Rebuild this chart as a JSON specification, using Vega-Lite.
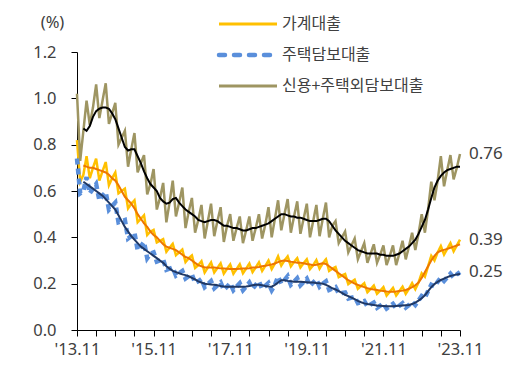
{
"$schema":"https://vega.github.io/schema/vega-lite/v6.json",
"width":383,"height":278,
"autosize":{"type":"none"},
"padding":{"left":77,"top":52,"right":71,"bottom":36},
"background":"white",
"config":{"view":{"stroke":null},"font":"Noto Sans",
 "axis":{"domainColor":"#000000","tickColor":"#000000","domainWidth":1,"tickWidth":1,"labelColor":"#404040","labelFontSize":16.5,"labelFont":"Noto Sans","grid":false,"tickSize":6}},
"data":{"values":[
{"i":0,"a":0.82,"b":0.74,"c":1.02},
{"i":1,"a":0.64,"b":0.59,"c":0.73},
{"i":2,"a":0.67,"b":0.60,"c":0.86,"ta":0.71,"tb":0.64,"tc":0.87},
{"i":3,"a":0.75,"b":0.66,"c":0.99,"ta":0.705,"tb":0.63,"tc":0.86},
{"i":4,"a":0.655,"b":0.59,"c":0.885,"ta":0.70,"tb":0.62,"tc":0.88},
{"i":5,"a":0.70,"b":0.61,"c":0.96,"ta":0.70,"tb":0.61,"tc":0.92},
{"i":6,"a":0.74,"b":0.63,"c":1.06,"ta":0.695,"tb":0.60,"tc":0.945},
{"i":7,"a":0.645,"b":0.56,"c":0.915,"ta":0.69,"tb":0.59,"tc":0.955},
{"i":8,"a":0.685,"b":0.58,"c":0.99,"ta":0.685,"tb":0.58,"tc":0.96},
{"i":9,"a":0.725,"b":0.595,"c":1.065,"ta":0.68,"tb":0.565,"tc":0.96},
{"i":10,"a":0.625,"b":0.52,"c":0.89,"ta":0.67,"tb":0.55,"tc":0.955},
{"i":11,"a":0.655,"b":0.535,"c":0.935,"ta":0.655,"tb":0.535,"tc":0.935},
{"i":12,"a":0.68,"b":0.55,"c":0.98,"ta":0.645,"tb":0.52,"tc":0.91},
{"i":13,"a":0.59,"b":0.465,"c":0.80,"ta":0.625,"tb":0.495,"tc":0.87},
{"i":14,"a":0.60,"b":0.47,"c":0.83,"ta":0.60,"tb":0.47,"tc":0.83},
{"i":15,"a":0.61,"b":0.475,"c":0.86,"ta":0.575,"tb":0.445,"tc":0.79},
{"i":16,"a":0.525,"b":0.395,"c":0.705,"ta":0.56,"tb":0.425,"tc":0.775},
{"i":17,"a":0.545,"b":0.405,"c":0.78,"ta":0.545,"tb":0.405,"tc":0.78},
{"i":18,"a":0.56,"b":0.42,"c":0.85,"ta":0.525,"tb":0.39,"tc":0.78},
{"i":19,"a":0.465,"b":0.345,"c":0.68,"ta":0.50,"tb":0.375,"tc":0.75},
{"i":20,"a":0.48,"b":0.36,"c":0.72,"ta":0.48,"tb":0.36,"tc":0.72},
{"i":21,"a":0.495,"b":0.38,"c":0.755,"ta":0.46,"tb":0.35,"tc":0.685},
{"i":22,"a":0.41,"b":0.31,"c":0.585,"ta":0.445,"tb":0.34,"tc":0.655},
{"i":23,"a":0.425,"b":0.33,"c":0.63,"ta":0.425,"tb":0.33,"tc":0.63},
{"i":24,"a":0.432,"b":0.335,"c":0.695,"ta":0.41,"tb":0.32,"tc":0.615},
{"i":25,"a":0.378,"b":0.295,"c":0.52,"ta":0.40,"tb":0.31,"tc":0.60},
{"i":26,"a":0.385,"b":0.30,"c":0.57,"ta":0.385,"tb":0.30,"tc":0.57},
{"i":27,"a":0.392,"b":0.305,"c":0.635,"ta":0.37,"tb":0.29,"tc":0.555},
{"i":28,"a":0.338,"b":0.26,"c":0.465,"ta":0.36,"tb":0.275,"tc":0.545},
{"i":29,"a":0.355,"b":0.265,"c":0.55,"ta":0.355,"tb":0.265,"tc":0.55},
{"i":30,"a":0.372,"b":0.27,"c":0.645,"ta":0.35,"tb":0.255,"tc":0.565},
{"i":31,"a":0.323,"b":0.235,"c":0.49,"ta":0.345,"tb":0.25,"tc":0.57},
{"i":32,"a":0.335,"b":0.245,"c":0.55,"ta":0.335,"tb":0.245,"tc":0.55},
{"i":33,"a":0.347,"b":0.255,"c":0.615,"ta":0.325,"tb":0.24,"tc":0.535},
{"i":34,"a":0.293,"b":0.222,"c":0.44,"ta":0.315,"tb":0.237,"tc":0.52},
{"i":35,"a":0.31,"b":0.232,"c":0.51,"ta":0.31,"tb":0.232,"tc":0.51},
{"i":36,"a":0.322,"b":0.24,"c":0.57,"ta":0.30,"tb":0.225,"tc":0.50},
{"i":37,"a":0.268,"b":0.203,"c":0.42,"ta":0.29,"tb":0.218,"tc":0.49},
{"i":38,"a":0.28,"b":0.21,"c":0.475,"ta":0.28,"tb":0.21,"tc":0.475},
{"i":39,"a":0.297,"b":0.22,"c":0.54,"ta":0.275,"tb":0.205,"tc":0.47},
{"i":40,"a":0.248,"b":0.185,"c":0.395,"ta":0.27,"tb":0.20,"tc":0.465},
{"i":41,"a":0.27,"b":0.198,"c":0.47,"ta":0.27,"tb":0.198,"tc":0.47},
{"i":42,"a":0.292,"b":0.211,"c":0.545,"ta":0.27,"tb":0.196,"tc":0.475},
{"i":43,"a":0.248,"b":0.18,"c":0.405,"ta":0.27,"tb":0.195,"tc":0.475},
{"i":44,"a":0.268,"b":0.193,"c":0.47,"ta":0.268,"tb":0.193,"tc":0.47},
{"i":45,"a":0.288,"b":0.205,"c":0.53,"ta":0.266,"tb":0.19,"tc":0.46},
{"i":46,"a":0.243,"b":0.173,"c":0.38,"ta":0.265,"tb":0.188,"tc":0.45},
{"i":47,"a":0.264,"b":0.187,"c":0.45,"ta":0.264,"tb":0.187,"tc":0.45},
{"i":48,"a":0.283,"b":0.202,"c":0.50,"ta":0.263,"tb":0.187,"tc":0.445},
{"i":49,"a":0.243,"b":0.172,"c":0.385,"ta":0.263,"tb":0.187,"tc":0.44},
{"i":50,"a":0.263,"b":0.187,"c":0.44,"ta":0.263,"tb":0.187,"tc":0.44},
{"i":51,"a":0.284,"b":0.202,"c":0.49,"ta":0.264,"tb":0.187,"tc":0.435},
{"i":52,"a":0.245,"b":0.172,"c":0.375,"ta":0.265,"tb":0.187,"tc":0.43},
{"i":53,"a":0.265,"b":0.188,"c":0.43,"ta":0.265,"tb":0.188,"tc":0.43},
{"i":54,"a":0.287,"b":0.205,"c":0.49,"ta":0.267,"tb":0.19,"tc":0.435},
{"i":55,"a":0.25,"b":0.178,"c":0.385,"ta":0.27,"tb":0.193,"tc":0.44},
{"i":56,"a":0.27,"b":0.195,"c":0.44,"ta":0.27,"tb":0.195,"tc":0.44},
{"i":57,"a":0.292,"b":0.21,"c":0.50,"ta":0.272,"tb":0.195,"tc":0.445},
{"i":58,"a":0.255,"b":0.178,"c":0.395,"ta":0.275,"tb":0.193,"tc":0.45},
{"i":59,"a":0.277,"b":0.19,"c":0.455,"ta":0.277,"tb":0.19,"tc":0.455},
{"i":60,"a":0.30,"b":0.203,"c":0.53,"ta":0.28,"tb":0.188,"tc":0.46},
{"i":61,"a":0.263,"b":0.172,"c":0.40,"ta":0.283,"tb":0.187,"tc":0.47},
{"i":62,"a":0.287,"b":0.195,"c":0.48,"ta":0.287,"tb":0.195,"tc":0.48},
{"i":63,"a":0.318,"b":0.23,"c":0.56,"ta":0.293,"tb":0.205,"tc":0.49},
{"i":64,"a":0.278,"b":0.20,"c":0.43,"ta":0.298,"tb":0.215,"tc":0.50},
{"i":65,"a":0.30,"b":0.215,"c":0.50,"ta":0.30,"tb":0.215,"tc":0.50},
{"i":66,"a":0.318,"b":0.232,"c":0.565,"ta":0.298,"tb":0.212,"tc":0.495},
{"i":67,"a":0.275,"b":0.195,"c":0.42,"ta":0.295,"tb":0.21,"tc":0.49},
{"i":68,"a":0.293,"b":0.208,"c":0.49,"ta":0.293,"tb":0.208,"tc":0.49},
{"i":69,"a":0.31,"b":0.223,"c":0.555,"ta":0.29,"tb":0.208,"tc":0.485},
{"i":70,"a":0.27,"b":0.193,"c":0.415,"ta":0.29,"tb":0.208,"tc":0.485},
{"i":71,"a":0.288,"b":0.207,"c":0.48,"ta":0.288,"tb":0.207,"tc":0.48},
{"i":72,"a":0.305,"b":0.221,"c":0.545,"ta":0.285,"tb":0.206,"tc":0.475},
{"i":73,"a":0.263,"b":0.19,"c":0.40,"ta":0.283,"tb":0.205,"tc":0.47},
{"i":74,"a":0.28,"b":0.205,"c":0.47,"ta":0.28,"tb":0.205,"tc":0.47},
{"i":75,"a":0.302,"b":0.218,"c":0.54,"ta":0.282,"tb":0.203,"tc":0.47},
{"i":76,"a":0.265,"b":0.187,"c":0.405,"ta":0.285,"tb":0.202,"tc":0.475},
{"i":77,"a":0.288,"b":0.20,"c":0.48,"ta":0.288,"tb":0.20,"tc":0.48},
{"i":78,"a":0.305,"b":0.21,"c":0.55,"ta":0.285,"tb":0.195,"tc":0.48},
{"i":79,"a":0.255,"b":0.173,"c":0.40,"ta":0.275,"tb":0.188,"tc":0.47},
{"i":80,"a":0.265,"b":0.18,"c":0.45,"ta":0.265,"tb":0.18,"tc":0.45},
{"i":81,"a":0.272,"b":0.185,"c":0.47,"ta":0.255,"tb":0.175,"tc":0.43},
{"i":82,"a":0.228,"b":0.158,"c":0.375,"ta":0.245,"tb":0.168,"tc":0.415},
{"i":83,"a":0.235,"b":0.16,"c":0.40,"ta":0.235,"tb":0.16,"tc":0.40},
{"i":84,"a":0.242,"b":0.162,"c":0.425,"ta":0.225,"tb":0.152,"tc":0.385},
{"i":85,"a":0.198,"b":0.136,"c":0.335,"ta":0.215,"tb":0.146,"tc":0.375},
{"i":86,"a":0.208,"b":0.14,"c":0.365,"ta":0.208,"tb":0.14,"tc":0.365},
{"i":87,"a":0.217,"b":0.143,"c":0.395,"ta":0.20,"tb":0.133,"tc":0.355},
{"i":88,"a":0.178,"b":0.116,"c":0.305,"ta":0.195,"tb":0.126,"tc":0.345},
{"i":89,"a":0.19,"b":0.12,"c":0.34,"ta":0.19,"tb":0.12,"tc":0.34},
{"i":90,"a":0.202,"b":0.125,"c":0.375,"ta":0.185,"tb":0.115,"tc":0.335},
{"i":91,"a":0.163,"b":0.102,"c":0.29,"ta":0.18,"tb":0.112,"tc":0.33},
{"i":92,"a":0.177,"b":0.11,"c":0.33,"ta":0.177,"tb":0.11,"tc":0.33},
{"i":93,"a":0.192,"b":0.118,"c":0.37,"ta":0.175,"tb":0.108,"tc":0.33},
{"i":94,"a":0.156,"b":0.096,"c":0.29,"ta":0.173,"tb":0.106,"tc":0.33},
{"i":95,"a":0.17,"b":0.105,"c":0.325,"ta":0.17,"tb":0.105,"tc":0.325},
{"i":96,"a":0.185,"b":0.114,"c":0.365,"ta":0.168,"tb":0.104,"tc":0.325},
{"i":97,"a":0.149,"b":0.093,"c":0.28,"ta":0.166,"tb":0.103,"tc":0.32},
{"i":98,"a":0.165,"b":0.103,"c":0.32,"ta":0.165,"tb":0.103,"tc":0.32},
{"i":99,"a":0.182,"b":0.113,"c":0.365,"ta":0.165,"tb":0.103,"tc":0.32},
{"i":100,"a":0.149,"b":0.094,"c":0.28,"ta":0.166,"tb":0.104,"tc":0.325},
{"i":101,"a":0.168,"b":0.105,"c":0.33,"ta":0.168,"tb":0.105,"tc":0.33},
{"i":102,"a":0.187,"b":0.116,"c":0.385,"ta":0.17,"tb":0.106,"tc":0.34},
{"i":103,"a":0.156,"b":0.097,"c":0.305,"ta":0.173,"tb":0.107,"tc":0.35},
{"i":104,"a":0.178,"b":0.108,"c":0.36,"ta":0.178,"tb":0.108,"tc":0.36},
{"i":105,"a":0.202,"b":0.122,"c":0.42,"ta":0.185,"tb":0.112,"tc":0.375},
{"i":106,"a":0.176,"b":0.108,"c":0.345,"ta":0.193,"tb":0.118,"tc":0.39},
{"i":107,"a":0.205,"b":0.127,"c":0.415,"ta":0.205,"tb":0.127,"tc":0.415},
{"i":108,"a":0.245,"b":0.147,"c":0.50,"ta":0.225,"tb":0.137,"tc":0.445},
{"i":109,"a":0.23,"b":0.14,"c":0.42,"ta":0.25,"tb":0.15,"tc":0.475},
{"i":110,"a":0.275,"b":0.168,"c":0.52,"ta":0.275,"tb":0.168,"tc":0.52},
{"i":111,"a":0.32,"b":0.195,"c":0.64,"ta":0.30,"tb":0.185,"tc":0.57},
{"i":112,"a":0.30,"b":0.188,"c":0.56,"ta":0.32,"tb":0.198,"tc":0.615},
{"i":113,"a":0.335,"b":0.208,"c":0.645,"ta":0.335,"tb":0.208,"tc":0.645},
{"i":114,"a":0.362,"b":0.226,"c":0.75,"ta":0.342,"tb":0.216,"tc":0.665},
{"i":115,"a":0.326,"b":0.212,"c":0.62,"ta":0.346,"tb":0.222,"tc":0.68},
{"i":116,"a":0.35,"b":0.228,"c":0.69,"ta":0.35,"tb":0.228,"tc":0.69},
{"i":117,"a":0.375,"b":0.243,"c":0.755,"ta":0.355,"tb":0.233,"tc":0.695},
{"i":118,"a":0.34,"b":0.227,"c":0.65,"ta":0.36,"tb":0.237,"tc":0.70},
{"i":119,"a":0.365,"b":0.24,"c":0.70,"ta":0.365,"tb":0.24,"tc":0.705},
{"i":120,"a":0.39,"b":0.25,"c":0.76,"ta":0.37,"tb":0.242,"tc":0.705}
]},
"encoding":{
 "x":{"field":"i","type":"quantitative","scale":{"domain":[0,120],"nice":false,"zero":false},
  "axis":{"title":null,"values":[0,6,12,18,24,30,36,42,48,54,60,66,72,78,84,90,96,102,108,114,120],"labelExpr":"datum.value % 24 == 0 ? \"'\" + (13 + datum.value / 12) + '.11' : ''","labelPadding":5,"labelAngle":0,"labelAlign":"center"}},
 "y":{"field":"v","type":"quantitative","scale":{"domain":[0,1.2],"nice":false},
  "axis":{"title":"(%)","titleAngle":0,"titleX":-25,"titleY":-30,"titleAlign":"center","titleBaseline":"middle","titleFontWeight":"normal","titleFontSize":16.5,"titleColor":"#404040","titleFont":"Noto Sans","values":[0,0.2,0.4,0.6,0.8,1.0,1.2],"format":".1f","labelPadding":15}}
},
"layer":[
 {"transform":[{"fold":["a","b","c"],"as":["s","v"]}],
  "mark":{"type":"line","strokeCap":"butt"},
  "encoding":{
   "color":{"field":"s","type":"nominal","scale":{"domain":["a","b","c"],"range":["#FFC000","#5A8FDB","#9E9562"]},
    "legend":{"orient":"none","legendX":163,"legendY":-36,"title":null,"padding":0,"symbolType":"M-2.9,0H2.9","symbolSize":400,"symbolStrokeWidth":3,"labelOffset":26,"labelFontSize":16,"labelColor":"#404040","labelFont":"Noto Sans CJK KR","labelLimit":300,"rowPadding":14,
     "labelExpr":"datum.value == 'a' ? '가계대출' : datum.value == 'b' ? '주택담보대출' : '신용+주택외담보대출'",
     "encode":{"symbols":{"update":{"strokeDash":{"signal":"datum.value == 'b' ? [6,9] : [1,0]"},"strokeWidth":{"signal":"datum.value == 'b' ? 4.5 : 3"},"strokeCap":{"signal":"datum.value == 'b' ? 'round' : 'butt'"}}}}}},
   "strokeDash":{"condition":{"test":"datum.s == 'b'","value":[6,4]},"value":[1,0]},
   "strokeWidth":{"condition":{"test":"datum.s == 'b'","value":4.5},"value":2.5}
  }},
 {"transform":[{"fold":["ta","tb","tc"],"as":["s","v"]},{"filter":"isValid(datum.v)"}],
  "mark":{"type":"line","strokeWidth":2},
  "encoding":{
   "color":{"field":"s","type":"nominal","scale":{"domain":["ta","tb","tc"],"range":["#EE7600","#203864","#000000"]},"legend":null}
  }},
 {"transform":[{"fold":["a","b","c"],"as":["s","v"]},{"filter":"datum.i == 120"}],
  "mark":{"type":"text","align":"left","baseline":"middle","dx":9,"fontSize":17,"color":"#404040","font":"Noto Sans"},
  "encoding":{"text":{"field":"v","type":"quantitative","format":".2f"}}}
],
"resolve":{"scale":{"color":"independent"}}
}
